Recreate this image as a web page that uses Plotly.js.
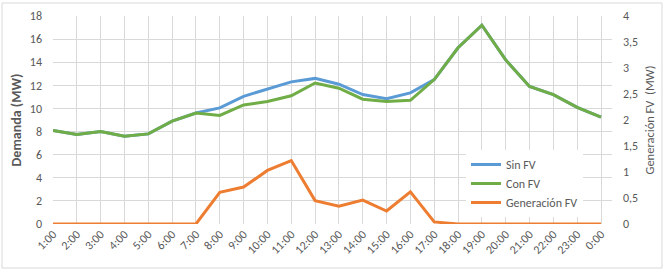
<!DOCTYPE html>
<html>
<head>
<meta charset="utf-8">
<script src="https://cdn.plot.ly/plotly-3.0.1.min.js"></script>
<style>html,body{margin:0;padding:0;background:#fff;}#chart{width:668px;height:271px;}</style>
</head>
<body>
<div id="chart"></div>
<script>
const hours = ["1:00","2:00","3:00","4:00","5:00","6:00","7:00","8:00","9:00","10:00","11:00","12:00","13:00","14:00","15:00","16:00","17:00","18:00","19:00","20:00","21:00","22:00","23:00","0:00"];
const sinFV = [8.1,7.75,8.0,7.6,7.8,8.9,9.6,10.05,11.05,11.65,12.3,12.6,12.1,11.2,10.85,11.35,12.5,15.25,17.2,14.2,11.9,11.2,10.1,9.25];
const conFV = [8.1,7.75,8.0,7.6,7.8,8.9,9.6,9.4,10.3,10.6,11.1,12.2,11.75,10.8,10.6,10.7,12.5,15.25,17.2,14.2,11.9,11.2,10.1,9.25];
const genFV = [0,0,0,0,0,0,0,0.61,0.71,1.03,1.22,0.45,0.34,0.46,0.25,0.62,0.04,0,0,0,0,0,0,0];
const leftTicks = [0,2,4,6,8,10,12,14,16,18];
const rightTicks = [0,0.5,1,1.5,2,2.5,3,3.5,4];

const FONT = "Carlito, Calibri, Lato, 'Open Sans', sans-serif";
const GRAY = "#595959";
const GRID = "#d9d9d9";

const traces = [
  {x: hours, y: sinFV, name: "Sin FV", type: "scatter", mode: "lines", line: {color: "#5B9BD5", width: 3}},
  {x: hours, y: conFV, name: "Con FV", type: "scatter", mode: "lines", line: {color: "#70AD47", width: 3}},
  {x: hours, y: genFV, name: "Generación FV", type: "scatter", mode: "lines", yaxis: "y2", line: {color: "#ED7D31", width: 3}}
];

const L = 53, R = 612, T = 16, B = 224;
const pw = R - L, ph = B - T;
const xmax = 23 * (R - L) / (601 - L);

const layout = {
  width: 668, height: 271,
  margin: {l: L, r: 668 - R, t: T, b: 271 - B, pad: 0},
  paper_bgcolor: "#fff", plot_bgcolor: "#fff",
  separators: ",.",
  font: {family: FONT, color: GRAY, size: 12},
  showlegend: true,
  legend: {
    x: (466 - L) / pw, y: (B - 150) / ph, xanchor: "left", yanchor: "top",
    bgcolor: "#fff", borderwidth: 0,
    font: {family: FONT, size: 12, color: GRAY},
    tracegroupgap: 0, itemwidth: 30
  },
  xaxis: {
    type: "category", categoryorder: "array", categoryarray: hours,
    range: [0, xmax], showgrid: true, gridcolor: GRID, gridwidth: 1,
    showline: false,
    ticks: "", tickangle: -45, tickfont: {family: FONT, size: 12, color: GRAY},
    automargin: false
  },
  yaxis: {
    range: [0, 18], tickvals: leftTicks, showgrid: true, gridcolor: GRID, gridwidth: 1,
    zeroline: false, showline: false, ticks: "",
    tickfont: {family: FONT, size: 12, color: GRAY},
    ticklabelstandoff: 10,
    title: {text: "Demanda (MW)", font: {family: FONT, size: 14, color: GRAY, weight: "bold"}, standoff: 4},
    automargin: false
  },
  yaxis2: {
    overlaying: "y", side: "right", range: [0, 4], tickvals: rightTicks,
    showgrid: false, zeroline: false, showline: false, ticks: "",
    tickfont: {family: FONT, size: 12, color: GRAY},
    ticklabelstandoff: 10,
    title: {text: "Generación FV  (MW)", font: {family: FONT, size: 12.5, color: GRAY}, standoff: 8},
    automargin: false
  },
  shapes: [{
    type: "rect", xref: "paper", yref: "paper",
    x0: (2 - L) / pw, x1: (662 - L) / pw, y0: (B - 268) / ph, y1: (B - 3) / ph,
    line: {color: GRID, width: 1}, fillcolor: "rgba(0,0,0,0)", layer: "below"
  }]
};

Plotly.newPlot("chart", traces, layout, {staticPlot: true, displayModeBar: false});
</script>
</body>
</html>
